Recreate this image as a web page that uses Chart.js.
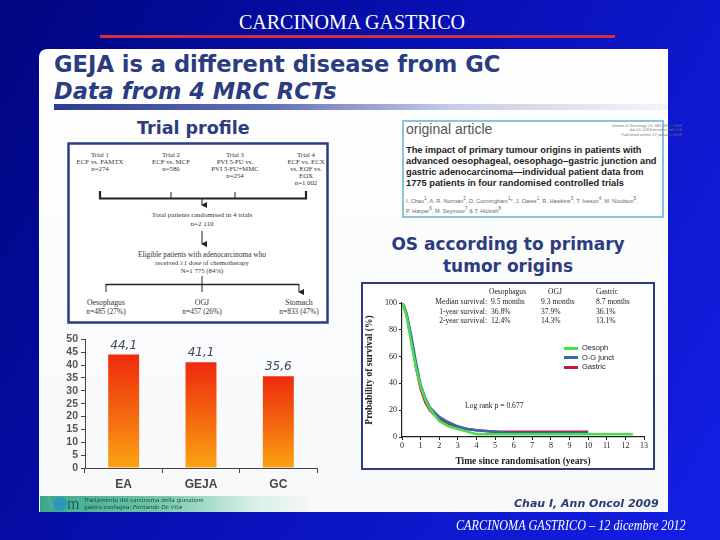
<!DOCTYPE html>
<html>
<head>
<meta charset="utf-8">
<script src="https://cdn.jsdelivr.net/npm/chart.js@4.4.1/dist/chart.umd.min.js"></script>
<style>
  html, body { margin: 0; padding: 0; }
  body {
    width: 720px; height: 540px; position: relative; overflow: hidden;
    background: linear-gradient(120deg, #00067e 0%, #0810b4 45%, #1420e6 100%);
    font-family: "DejaVu Sans", sans-serif;
  }
  .abs { position: absolute; white-space: nowrap; }
  .panel {
    position: absolute; left: 39px; top: 49px; width: 629px; height: 463px;
    background: linear-gradient(180deg, #ffffff 0%, #f7f8fa 100%);
    border-top-left-radius: 8px;
  }
  .head { color: #2c3c80; font-weight: bold; }
  .serif { font-family: "Liberation Serif", serif; color: #222; }
</style>
</head>
<body>

<div class="abs serif" style="left:0;width:704px;text-align:center;top:11px;font-size:20px;color:#fff;">CARCINOMA GASTRICO</div>
<div class="abs" style="left:100px;top:35px;width:515px;height:3px;background:#d03040;"></div>

<div class="panel"></div>

<div class="abs head" style="left:54px;top:51px;font-size:22.6px;">GEJA is a different disease from GC</div>
<div class="abs head" style="left:54px;top:78px;font-size:22.5px;font-style:italic;">Data from 4 MRC RCTs</div>
<div class="abs" style="left:54px;top:104px;width:614px;height:6px;background:linear-gradient(90deg,#2c3c90 0%,#6070b8 35%,#c8cce4 65%,#f4f5fa 100%);"></div>

<div class="abs head" style="left:137px;top:118px;font-size:17.5px;">Trial profile</div>

<!-- trial profile flow chart -->
<svg class="abs" style="left:66px;top:141px;" width="264" height="184" viewBox="66 141 264 184">
  <defs>
    <marker id="arr" markerWidth="6" markerHeight="6" refX="3" refY="5" orient="auto">
      <path d="M0,0 L6,0 L3,6 Z" fill="#222"/>
    </marker>
  </defs>
  <rect x="68.5" y="143.5" width="259" height="179" fill="#fff" stroke="#2c3c80" stroke-width="2.5"/>
  <g font-family="Liberation Serif, serif" font-size="6.8" fill="#333" text-anchor="middle">
    <text x="100" y="157">Trial 1</text><text x="100" y="164">ECF vs. FAMTX</text><text x="100" y="171">n=274</text>
    <text x="171" y="157">Trial 2</text><text x="171" y="164">ECF vs. MCF</text><text x="171" y="171">n=580</text>
    <text x="235" y="157">Trial 3</text><text x="235" y="164">PVI 5-FU vs.</text><text x="235" y="171">PVI 5-FU+MMC</text><text x="235" y="178">n=254</text>
    <text x="306" y="157">Trial 4</text><text x="306" y="164">ECF vs. ECX</text><text x="306" y="171">vs. EOF vs.</text><text x="306" y="178">EOX</text><text x="306" y="185">n=1 002</text>
    <text x="202" y="217" font-size="7">Total patients randomised in 4 trials</text>
    <text x="202" y="226" font-size="7">n=2 110</text>
    <text x="202" y="257" font-size="7.4">Eligible patients with adenocarcinoma who</text>
    <text x="202" y="265">received ≥1 dose of chemotherapy</text>
    <text x="202" y="273">N=1 775 (84%)</text>
    <text x="106" y="305" font-size="7.8">Oesophagus</text><text x="106" y="314" font-size="7.4">n=485 (27%)</text>
    <text x="202" y="305" font-size="7.8">OGJ</text><text x="202" y="314" font-size="7.4">n=457 (26%)</text>
    <text x="299" y="305" font-size="7.8">Stomach</text><text x="299" y="314" font-size="7.4">n=833 (47%)</text>
  </g>
  <g stroke="#222" fill="none">
    <path d="M100,191 V198.5 H306 V191" stroke-width="2.2"/>
    <path d="M171,192 V198 M235,192 V198" stroke-width="1"/>
    <path d="M202,199 V205" stroke-width="1" marker-end="url(#arr)"/>
    <path d="M202,231 V244" stroke-width="1" marker-end="url(#arr)"/>
    <path d="M202,276 V284" stroke-width="1"/>
    <path d="M106,284.5 H299" stroke-width="1.4"/>
    <path d="M106,284 V292 M202,284 V292 M299,284 V292" stroke-width="1" marker-end="url(#arr)"/>
  </g>
</svg>

<!-- original article box -->
<div class="abs" style="left:402px;top:120px;width:258px;height:94px;border:2px solid #8ac4dc;background:#fff;"></div>
<div class="abs" style="left:406px;top:121px;font-size:14px;color:#555;font-family:'Liberation Sans',sans-serif;">original article</div>
<div class="abs" style="left:612px;top:124px;font-size:3.6px;color:#777;line-height:4.4px;text-align:right;">Annals of Oncology 20: 885–891, 2009<br>doi:10.1093/annonc/mdn716<br>Published online 22 January 2009</div>
<div class="abs" style="left:406px;top:145px;font-size:9.3px;line-height:11px;color:#222;font-weight:bold;font-family:'Liberation Sans',sans-serif;">The impact of primary tumour origins in patients with<br>advanced oesophageal, oesophago–gastric junction and<br>gastric adenocarcinoma—individual patient data from<br>1775 patients in four randomised controlled trials</div>
<div class="abs" style="left:406px;top:195px;font-size:5.6px;line-height:7.6px;color:#666;font-family:'Liberation Sans',sans-serif;">I. Chau<sup>1</sup>, A. R. Norman<sup>2</sup>, D. Cunningham<sup>1</sup>*, J. Oates<sup>1</sup>, R. Hawkins<sup>3</sup>, T. Iveson<sup>4</sup>, M. Nicolson<sup>5</sup>,<br>P. Harper<sup>6</sup>, M. Seymour<sup>7</sup> &amp; T. Hickish<sup>8</sup></div>

<div class="abs head" style="left:360px;width:296px;text-align:center;top:233px;font-size:17px;line-height:22px;">OS according to primary<br>tumor origins</div>

<!-- survival chart box -->
<div class="abs" style="left:361px;top:282px;width:290px;height:184px;border:2px solid #2c3c80;background:#fff;"></div>
<div class="abs" style="left:364px;top:285px;width:288px;height:182px;">
  <canvas id="survChart" width="288" height="182"></canvas>
</div>
<div class="abs serif" style="left:0;top:0;width:720px;height:540px;font-size:7.6px;">
  <div class="abs" style="left:489px;top:287px;">Oesophagus</div>
  <div class="abs" style="left:548px;top:287px;">OGJ</div>
  <div class="abs" style="left:596px;top:287px;">Gastric</div>
  <div class="abs" style="right:233px;top:297px;">Median survival:</div>
  <div class="abs" style="right:233px;top:307px;">1-year survival:</div>
  <div class="abs" style="right:233px;top:316px;">2-year survival:</div>
  <div class="abs" style="left:491px;top:297px;">9.5 months</div>
  <div class="abs" style="left:541px;top:297px;">9.3 months</div>
  <div class="abs" style="left:596px;top:297px;">8.7 months</div>
  <div class="abs" style="left:491px;top:307px;">36.8%</div>
  <div class="abs" style="left:541px;top:307px;">37.9%</div>
  <div class="abs" style="left:596px;top:307px;">36.1%</div>
  <div class="abs" style="left:491px;top:316px;">12.4%</div>
  <div class="abs" style="left:541px;top:316px;">14.3%</div>
  <div class="abs" style="left:596px;top:316px;">13.1%</div>
  <div class="abs" style="left:465px;top:401px;">Log rank p = 0.677</div>
</div>
<div class="abs" id="survLegend" style="left:564px;top:343px;font-size:7.5px;line-height:9.5px;color:#222;font-family:'Liberation Sans',sans-serif;"></div>

<!-- bar chart -->
<div class="abs" style="left:55px;top:330px;width:270px;height:165px;">
  <canvas id="barChart" width="270" height="165"></canvas>
</div>

<!-- footer -->
<div class="abs" style="left:40px;top:496px;width:270px;height:16px;background:linear-gradient(90deg,#3aa888 0%,#6cc4a4 40%,#d8f0e8 80%,rgba(255,255,255,0) 100%);"></div>
<div class="abs" style="left:42px;top:493px;font-size:17px;color:#5aa8b0;font-family:'Liberation Serif',serif;">A</div>
<div class="abs" style="left:53px;top:497px;width:14px;height:14px;border-radius:50%;background:#2a9ab8;"></div>
<div class="abs" style="left:67px;top:495px;font-size:16px;color:#1a5a70;font-family:'Liberation Serif',serif;">m</div>
<div class="abs" style="left:84px;top:497px;font-size:5.6px;line-height:6.6px;color:#1a4a50;">Trattamento del carcinoma della giunzione<br>gastro-esofagea: <i>Fernando De Vita</i></div>
<div class="abs" style="left:514px;top:497px;font-size:11px;font-style:italic;font-weight:bold;color:#2c3c70;">Chau I, Ann Oncol 2009</div>

<div class="abs serif" style="left:456px;top:518px;font-size:14px;font-style:italic;color:#fff;transform:scaleX(0.87);transform-origin:left top;">CARCINOMA GASTRICO – 12 dicembre 2012</div>

<script>
// Bar chart data
const barCategories = ['EA', 'GEJA', 'GC'];
const barValues = [44.1, 41.1, 35.6];
const barLabels = ['44,1', '41,1', '35,6'];

// Survival curves (years since randomisation vs % alive)
const survTimes   = [0, 0.1, 0.25, 0.5, 0.75, 1, 1.25, 1.5, 2, 2.5, 3, 3.5, 4, 5, 6, 7, 8, 9, 10, 12.4];
const oesophSurv  = [100, 97, 90, 70, 52, 38, 28, 21, 12, 8, 6, 4, 2, 2, 2, 2, 2, 2, 2, 2];
const ogjSurv     = [100, 98, 92, 75, 56, 39, 29, 22, 15, 11, 8, 6, 5, 4, 3, 3, 3, 3, 3, null];
const gastricSurv = [100, 97, 91, 73, 52, 36, 26, 20, 13, 10, 7, 6, 5, 4, 4, 4, 4, 4, 4, null];
const survSeries = [
    { label: 'Oesoph', values: oesophSurv, color: '#48e048' },
    { label: 'O-G junct', values: ogjSurv, color: '#3a68b0' },
    { label: 'Gastric', values: gastricSurv, color: '#c01c3c' }
];

// Bar chart
const barGradient = (context) => {
    const chart = context.chart;
    const yScale = chart.scales.y;
    if (!chart.chartArea || !yScale) return '#f05010';
    const top = yScale.getPixelForValue(context.raw);
    const bottom = yScale.getPixelForValue(0);
    const g = chart.ctx.createLinearGradient(0, top, 0, bottom);
    g.addColorStop(0, '#ee2a0c');
    g.addColorStop(0.55, '#f56a10');
    g.addColorStop(1, '#fba412');
    return g;
};

const barValueLabels = {
    id: 'barValueLabels',
    afterDatasetsDraw(chart) {
        const ctx = chart.ctx;
        const meta = chart.getDatasetMeta(0);
        ctx.save();
        ctx.font = 'italic 12px "DejaVu Sans", sans-serif';
        ctx.fillStyle = '#3c4862';
        ctx.textAlign = 'center';
        ctx.textBaseline = 'bottom';
        meta.data.forEach((bar, i) => {
            ctx.fillText(barLabels[i], bar.x, bar.y - 3);
        });
        ctx.restore();
    }
};

new Chart(document.getElementById('barChart').getContext('2d'), {
    type: 'bar',
    data: {
        labels: barCategories,
        datasets: [{
            data: barValues,
            backgroundColor: barGradient,
            borderWidth: 0,
            barPercentage: 0.4,
            categoryPercentage: 1
        }]
    },
    options: {
        responsive: false,
        animation: false,
        layout: { padding: { left: 0, right: 8, top: 7, bottom: 0 } },
        scales: {
            y: {
                min: 0,
                max: 50,
                ticks: { stepSize: 5, autoSkip: false, color: '#555', font: { size: 10.5, weight: 'bold' }, padding: 3 },
                grid: { drawOnChartArea: false, tickLength: 4, color: '#444' },
                border: { color: '#444', width: 1 },
                afterFit: s => { s.width = 30; }
            },
            x: {
                ticks: { color: '#444', font: { size: 12, weight: 'bold' }, padding: 4 },
                grid: { drawOnChartArea: false, tickLength: 5, color: '#444', offset: true },
                border: { color: '#444', width: 1 },
                afterFit: s => { s.height = 27; }
            }
        },
        plugins: {
            legend: { display: false },
            tooltip: { enabled: false }
        }
    },
    plugins: [barValueLabels]
});

// Survival chart
new Chart(document.getElementById('survChart').getContext('2d'), {
    type: 'line',
    data: {
        datasets: survSeries.map(s => ({
            label: s.label,
            data: survTimes.map((t, i) => ({ x: t, y: s.values[i] })),
            borderColor: s.color,
            backgroundColor: s.color,
            borderWidth: 2.5,
            pointRadius: 0,
            tension: 0,
            spanGaps: false
        }))
    },
    options: {
        responsive: false,
        animation: false,
        layout: { padding: { left: 0, right: 8, top: 18, bottom: 0 } },
        scales: {
            x: {
                type: 'linear',
                min: 0,
                max: 13,
                ticks: { stepSize: 1, autoSkip: false, color: '#222', font: { family: 'Liberation Serif', size: 8 }, padding: 1 },
                grid: { drawOnChartArea: false, tickLength: 3, color: '#222' },
                border: { color: '#222', width: 1.2 },
                title: {
                    display: true,
                    text: 'Time since randomisation (years)',
                    color: '#222',
                    font: { family: 'Liberation Serif', size: 9.5, weight: 'bold' },
                    padding: { top: 2, bottom: 0 }
                },
                afterFit: s => { s.height = 30; }
            },
            y: {
                min: 0,
                max: 100,
                ticks: { stepSize: 20, color: '#222', font: { family: 'Liberation Serif', size: 8 }, padding: 2 },
                grid: { drawOnChartArea: false, tickLength: 3, color: '#222' },
                border: { color: '#222', width: 1.2 },
                title: {
                    display: true,
                    text: 'Probability of survival (%)',
                    color: '#222',
                    font: { family: 'Liberation Serif', size: 9.5, weight: 'bold' },
                    padding: { top: 0, bottom: 2 }
                },
                afterFit: s => { s.width = 38; }
            }
        },
        plugins: {
            legend: { display: false },
            tooltip: { enabled: false }
        }
    }
});

// Legend for survival curves
const legendBox = document.getElementById('survLegend');
survSeries.forEach(s => {
    const row = document.createElement('div');
    row.innerHTML = '<span style="display:inline-block;width:14px;height:3px;background:' + s.color +
        ';vertical-align:middle;margin-right:4px;"></span>' + s.label;
    legendBox.appendChild(row);
});
</script>
</body>
</html>
